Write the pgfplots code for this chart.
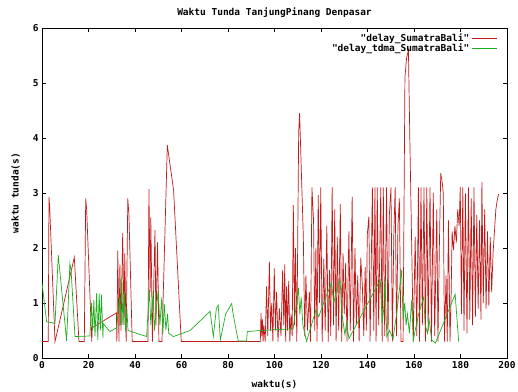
\documentclass[border=0pt]{standalone}
\usepackage{fontspec}
\setmainfont{DejaVu Sans Mono}[Ligatures=TeXOff]
\usepackage{pgfplots}
\pgfplotsset{compat=1.18}
\definecolor{gpred}{RGB}{195,25,25}
\definecolor{gpgreen}{RGB}{30,175,30}
\newcommand{\q}{\symbol{34}}
\begin{document}
\begin{tikzpicture}
\path[use as bounding box] (0,0) rectangle (518bp,392bp);
\begin{axis}[
  at={(42bp,34bp)}, anchor=south west,
  scale only axis, width=465bp, height=330bp,
  xmin=0, xmax=200, ymin=0, ymax=6,
  xtick={0,20,...,200}, ytick={0,1,...,6},
  tick align=inside, major tick length=4bp,
  /pgf/number format/assume math mode=true,
  tick label style={font=\fontsize{9.5bp}{11bp}\selectfont\bfseries},
  label style={font=\fontsize{9.5bp}{11bp}\selectfont\bfseries},
  title style={font=\fontsize{9.5bp}{11bp}\selectfont\bfseries, yshift=1bp},
  title={Waktu Tunda TanjungPinang Denpasar},
  xlabel={waktu(s)}, ylabel={waktu tunda(s)},
  xlabel style={yshift=-5bp}, ylabel style={yshift=6bp},
  axis line style={line width=0.6bp},
  every tick/.style={black, line width=0.6bp},
  legend plot pos=right, legend cell align=right,
  legend image code/.code={\draw[#1] (6bp,0bp) -- (31bp,0bp);},
  legend style={draw=none, fill=none, at={(0.981,0.992)}, anchor=north east,
    font=\fontsize{9.5bp}{11bp}\selectfont\bfseries, row sep=-3bp,
    inner sep=1bp},
  legend image post style={line width=0.7bp},
  clip=true,
]
\addplot[gpred, line width=0.7bp] coordinates {
(0,0.3) (2.7,0.3) (3.0,2.93) (3.3,2.75) (5.6,0.3) (13.9,1.83) (15.9,0.3) (18.2,0.3) (18.8,2.9) (19.2,2.7) (21.4,0.3) (21.6,0.55) (32,0.82) (32.2,0.3) (32.6,1.95) (33.1,0.3) (33.5,1.7) (34.0,0.5) (34.7,2.27) (35.3,0.6) (35.6,1.9) (36.2,0.3) (36.9,2.9) (37.4,2.6) (38.8,0.3) (45.6,0.3) (46.0,3.07) (46.5,1.2) (46.8,2.55) (47.5,0.3) (48.6,2.33) (49.0,0.6) (49.7,2.1) (50.3,0.3) (51.6,0.3) (53.9,3.87) (56.6,3.05) (59.9,0.3) (93.9,0.3)
(94.2,0.82) (94.5,0.4) (94.8,0.7) (95.1,0.3) (95.4,0.6) (96.0,0.3) (96.6,1.3) (97.1,0.4) (97.8,1.75) (98.3,0.5) (98.8,1.0) (99.3,0.3) (99.9,1.63) (100.4,0.5) (100.9,1.2) (101.5,0.3) (102.1,0.9) (102.8,0.4) (103.5,1.6) (104.0,0.6) (104.4,1.7) (104.8,0.3) (105.2,1.3) (105.6,0.5) (106.1,1.4) (106.6,0.3) (107.1,0.8) (107.6,0.4) (108.1,2.78) (108.6,0.6) (109.0,2.0) (109.6,0.3) (110.4,4.1) (110.8,4.45) (111.4,3.6) (112.4,2.2) (113.0,0.4) (113.5,1.5) (114.2,0.5) (115.0,1.2) (115.5,0.3) (116.1,3.1) (116.8,2.5) (117.3,0.5) (117.8,2.0) (118.3,0.3) (118.8,2.96) (119.4,1.0) (119.9,3.1) (120.5,0.3) (121.2,1.8) (121.8,0.5) (122.5,2.4) (123.1,0.3) (123.7,1.6) (124.2,0.4) (124.8,3.1) (125.4,0.6) (125.9,2.7) (126.5,0.3) (127.0,2.2) (127.6,0.5) (128.3,2.8) (128.9,0.3) (129.5,1.9) (130.0,0.8) (130.6,1.73) (131.2,0.3) (132.0,2.3) (132.6,0.5) (133.4,2.93) (134.0,0.3) (134.6,2.0) (135.2,0.6) (135.8,1.5) (136.4,0.3) (137.1,1.82) (137.8,1.3) (138.4,0.4) (139.0,1.65) (139.5,0.5) (139.9,2.24) (140.6,2.57) (141.1,0.3) (142.1,3.1) (142.7,0.5) (143.2,3.1) (143.7,0.3) (144.2,3.1) (144.8,0.6) (145.7,3.1) (146.3,0.3) (146.8,3.1) (147.4,0.4) (148.2,3.1) (148.8,0.3) (149.4,2.6) (150.1,3.1) (150.7,0.3) (151.3,2.2) (151.9,3.1) (152.5,0.4) (153.1,2.4) (153.7,2.9) (154.4,0.3) (155.3,0.3) (156.1,5.1) (156.8,5.45) (157.6,5.6) (158.2,4.0) (158.7,2.8) (159.7,0.3) (160.5,2.2) (161.2,0.4) (161.9,3.1) (162.4,0.3) (163.0,3.1) (163.6,0.6) (164.3,3.1) (164.9,0.3) (165.5,3.1) (166.1,0.5) (166.9,3.1) (167.5,0.3) (168.3,3.0) (168.9,0.4) (169.8,2.7) (170.3,0.3) (170.9,2.0) (171.5,3.36) (172.1,3.2) (172.6,3.0) (173.1,0.3) (173.8,1.5) (174.3,0.3) (174.8,2.5) (175.5,0.3) (176.0,1.2) (176.4,2.3) (177.0,1.96) (177.6,2.4) (178.2,2.1) (178.8,2.7) (179.4,2.4) (179.9,3.11) (180.4,0.8) (181.0,3.1) (181.5,0.5) (182.1,3.0) (182.8,0.45) (183.4,3.1) (184.0,0.7) (184.6,2.9) (185.2,0.6) (185.8,3.1) (186.4,0.75) (187.0,2.6) (187.6,0.9) (188.2,2.5) (188.8,0.7) (189.2,3.2) (189.8,1.0) (190.4,2.7) (191.0,0.9) (191.6,2.3) (192.2,0.95) (192.8,2.2) (193.4,1.2) (194.0,1.9) (194.6,2.3) (195.2,2.7) (195.8,2.87) (196.4,2.98)
};
\addlegendentry{\q delay\_SumatraBali\q}
\addplot[gpgreen, line width=0.7bp] coordinates {
(0,1.36) (2,0.66) (5.6,0.63) (7.0,1.87) (10.6,0.31) (12.0,1.72) (12.5,1.6) (14.2,0.39) (20.6,0.4) (21.3,1.0) (21.8,0.5) (22.3,1.05) (22.8,0.4) (23.5,1.18) (24.0,0.33) (24.6,1.17) (25.1,0.5) (25.6,1.15) (26.2,0.37) (26.4,0.62) (29.2,0.48) (32.1,0.55) (33.4,1.1) (33.8,0.6) (34.3,1.48) (34.8,0.6) (35.4,1.2) (36.0,0.47) (36.5,0.9) (37.0,0.5) (45,0.39) (45.7,0.9) (46.2,1.24) (46.8,0.6) (47.8,1.2) (48.4,0.5) (49.2,0.9) (50.0,1.22) (50.7,0.6) (51.5,1.1) (52.0,0.45) (52.6,0.98) (53.3,0.51) (54.0,0.8) (54.5,0.45) (56.5,0.39) (63.7,0.5) (72.3,0.85) (73.7,0.39) (75.0,0.9) (75.8,0.96) (76.7,0.33) (79.0,0.8) (81.6,0.99) (82.0,0.85) (84.4,0.31) (88,0.31) (88.3,0.48) (93.8,0.5) (108,0.53) (109.2,0.9) (110.3,1.27) (110.9,0.8) (111.5,1.1) (112.2,0.6) (113.8,0.3) (117.8,0.87) (119.0,0.75) (122,1.1) (124.5,1.36) (125.5,1.0) (126.5,1.2) (128.2,1.42) (129.0,0.8) (130.3,0.42) (131.0,0.65) (132,0.35) (145.5,1.42) (146.3,0.63) (147.0,0.9) (147.5,1.45) (148.3,0.39) (149.5,0.5) (151,0.35) (152.5,0.8) (154.7,1.6) (155.3,0.7) (156.0,1.0) (156.6,0.6) (157.2,0.8) (158.0,0.45) (159.0,1.05) (159.7,0.33) (160.5,0.5) (162.0,0.8) (164.2,1.11) (164.8,0.6) (165.8,0.45) (166.5,0.7) (167.6,0.33) (169.2,0.27) (177.7,1.16) (179.2,0.3)
};
\addlegendentry{\q delay\_tdma\_SumatraBali\q}
\end{axis}
\end{tikzpicture}
\end{document}
